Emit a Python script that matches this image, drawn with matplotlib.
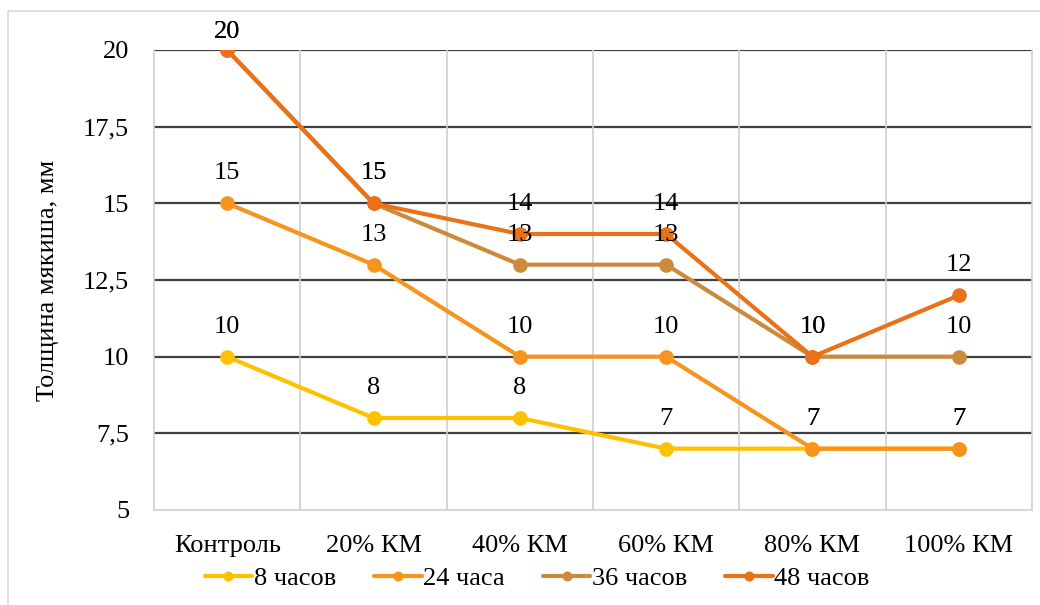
import matplotlib
matplotlib.use("Agg")
import matplotlib.pyplot as plt
from matplotlib.patches import Rectangle
from matplotlib.ticker import FixedLocator, FuncFormatter

plt.rcParams['font.family'] = ['Liberation Serif', 'DejaVu Serif']

categories = ["Контроль", "20% КМ", "40% КМ", "60% КМ", "80% КМ", "100% КМ"]
series_names = ["8 часов", "24 часа", "36 часов", "48 часов"]
h8 = [10, 8, 8, 7, 7, 7]
h24 = [15, 13, 10, 10, 7, 7]
h36 = [20, 15, 13, 13, 10, 10]
h48 = [20, 15, 14, 14, 10, 12]
colors = ["#FFC000", "#F7941D", "#CC8A3C", "#EA7118"]
y_ticks = [5, 7.5, 10, 12.5, 15, 17.5, 20]
y_label = "Толщина мякиша, мм"

FS = 19
W, H = 1040, 605
fig = plt.figure(figsize=(W / 100, H / 100), dpi=100)
ax = fig.add_axes([154 / W, 1 - 510 / H, (1032 - 154) / W, (510 - 50) / H])

x = list(range(len(categories)))
all_series = [h8, h24, h36, h48]
for vals, name, c in zip(all_series, series_names, colors):
    ax.plot(x, vals, color=c, lw=3.0, marker="o", ms=9.5, label=name,
            solid_capstyle="round", zorder=3)

# value labels above each point, kept just above the top of the plot area
px_per_unit = (510 - 50) / (20 - 5)
offset = 30 / px_per_unit
for vals in all_series:
    for xi, v in zip(x, vals):
        ty = min(v + offset, 20 + 18 / px_per_unit)
        ax.text(xi, ty, f"{v}", ha="center", va="center", fontsize=FS,
                color="black", clip_on=False, zorder=4)

ax.set_xlim(-0.5, len(categories) - 0.5)
ax.set_ylim(5, 20)
ax.yaxis.set_major_locator(FixedLocator(y_ticks))
ax.yaxis.set_major_formatter(FuncFormatter(
    lambda v, p: (f"{v:g}").replace(".", ",")))
ax.set_xticks(x)
ax.set_xticklabels(categories)
ax.xaxis.set_minor_locator(FixedLocator([i + 0.5 for i in x[:-1]]))

# horizontal gridlines (dark) and vertical separators (light)
for yv in y_ticks[1:]:
    ax.axhline(yv, color="#404040", lw=1.6, zorder=1)
ax.grid(which="minor", axis="x", color="#D0D0D0", lw=1.2, zorder=1)

for s in ax.spines.values():
    s.set_color("#D0D0D0")
    s.set_linewidth(1.2)
ax.spines["top"].set_visible(False)

ax.tick_params(axis="both", which="both", length=0, labelsize=FS)
ax.tick_params(axis="y", pad=18)
ax.tick_params(axis="x", pad=18)
ax.set_ylabel(y_label, fontsize=FS)
ax.yaxis.set_label_coords(-0.108, 0.5)

leg = ax.legend(loc="center", bbox_to_anchor=((537 - 154) / 878, (510 - 578) / 460),
                ncol=4, frameon=False, fontsize=FS, handlelength=1.8,
                handletextpad=0.05, columnspacing=1.45, borderaxespad=0,
                markerscale=0.65)

fig.patches.append(Rectangle((8 / W, -0.1), 1.2, 1 - 11 / H + 0.1,
                             transform=fig.transFigure, fill=False,
                             edgecolor="#D9D9D9", lw=1.2))

fig.savefig("out.png", dpi=100, facecolor="white")
